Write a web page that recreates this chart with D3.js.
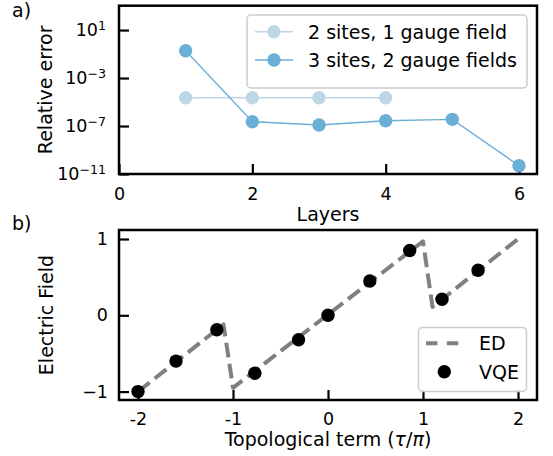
<!DOCTYPE html>
<html>
<head>
<meta charset="utf-8">
<script src="https://cdn.jsdelivr.net/npm/d3@7"></script>
<style>
  html, body { margin: 0; padding: 0; background: #ffffff; }
  svg { display: block; font-family: "DejaVu Sans", sans-serif; }
</style>
</head>
<body>
<svg id="chart" width="553" height="456"></svg>
<script>
// ---------------- data ----------------
const layers = [1, 2, 3, 4, 5, 6];
const err2sites = [2.3e-5, 2.3e-5, 2.3e-5, 2.3e-5];
const err3sites = [0.19, 2.3e-7, 1.2e-7, 2.75e-7, 3.6e-7, 4.9e-11];
const seriesNames = ["2 sites, 1 gauge field", "3 sites, 2 gauge fields"];

const topoED = [-2.0, -1.1, -1.0, 1.0, 1.1, 2.0];
const fieldED = [-1.0, -0.12, -0.95, 0.97, 0.11, 1.0];
const topoVQE = [-2.0, -1.6, -1.17, -0.77, -0.31, 0.0, 0.44, 0.86, 1.2, 1.58];
const fieldVQE = [-1.0, -0.6, -0.19, -0.76, -0.32, 0.0, 0.45, 0.85, 0.21, 0.59];

const topXTicks = [0, 2, 4, 6];
const topYTicks = [1e-11, 1e-7, 1e-3, 1e1];
const topYExp = ["\u221211", "\u22127", "\u22123", "1"];
const botXTicks = [-2, -1, 0, 1, 2];
const botXLabels = ["-2", "-1", "0", "1", "2"];
const botYTicks = [-1, 0, 1];
const botYLabels = ["\u22121", "0", "1"];

// ---------------- style ----------------
const cLight = "#bdd7e7", cDark = "#6baed6", cED = "#808080";
const tickFont = 17.5, labFont = 19;
const svg = d3.select("#chart");

function frame(g, x0, y0, x1, y1) {
  g.append("rect").attr("x", x0).attr("y", y0).attr("width", x1 - x0).attr("height", y1 - y0)
    .attr("fill", "none").attr("stroke", "#000").attr("stroke-width", 2.5);
}
function styleAxis(sel) {
  sel.select(".domain").remove();
  sel.selectAll(".tick line").attr("stroke", "#000").attr("stroke-width", 2.2);
  sel.selectAll(".tick text").attr("fill", "#000").style("font-size", tickFont + "px")
     .style("font-family", "DejaVu Sans");
}

// ================= panel a =================
const A = {x0: 119, x1: 537, y0: 5.7, y1: 174};
const xA = d3.scaleLinear().domain([0, 6.27]).range([A.x0, A.x1]);
const yA = d3.scaleLog().domain([1e-11, Math.pow(10, 3.03)]).range([A.y1, A.y0]);
const gA = svg.append("g");

gA.append("g").attr("transform", `translate(0,${A.y1})`)
  .call(d3.axisBottom(xA).tickValues(topXTicks).tickFormat(d3.format("d"))
        .tickSizeInner(-10).tickSizeOuter(0).tickPadding(14))
  .call(styleAxis);

const yAxA = gA.append("g").attr("transform", `translate(${A.x0},0)`)
  .call(d3.axisLeft(yA).tickValues(topYTicks).tickSizeInner(-10).tickSizeOuter(0).tickPadding(13))
  .call(styleAxis);
yAxA.selectAll(".tick text").each(function(d, i) {
  const t = d3.select(this);
  t.text(null);
  t.append("tspan").text("10");
  t.append("tspan").attr("dy", "-0.45em").style("font-size", "0.72em").text(topYExp[i]);
});

// series
const lineA = d3.line().x(d => xA(d[0])).y(d => yA(d[1]));
const s1 = err2sites.map((v, i) => [layers[i], v]);
const s2 = err3sites.map((v, i) => [layers[i], v]);
gA.append("path").datum(s1).attr("d", lineA).attr("fill", "none").attr("stroke", cLight).attr("stroke-width", 1.4);
gA.selectAll(".p1").data(s1).enter().append("circle")
  .attr("cx", d => xA(d[0])).attr("cy", d => yA(d[1])).attr("r", 6.7).attr("fill", cLight);
gA.append("path").datum(s2).attr("d", lineA).attr("fill", "none").attr("stroke", cDark).attr("stroke-width", 1.4);
gA.selectAll(".p2").data(s2).enter().append("circle")
  .attr("cx", d => xA(d[0])).attr("cy", d => yA(d[1])).attr("r", 6.7).attr("fill", cDark);

frame(gA, A.x0, A.y0, A.x1, A.y1);

// legend a
const legA = gA.append("g");
legA.append("rect").attr("x", 247).attr("y", 15).attr("width", 280).attr("height", 73)
  .attr("rx", 4).attr("fill", "#fff").attr("fill-opacity", 0.8).attr("stroke", "#cccccc").attr("stroke-width", 1.5);
[cLight, cDark].forEach((c, i) => {
  const yy = 31.7 + i * 28.3;
  legA.append("line").attr("x1", 255).attr("x2", 293).attr("y1", yy).attr("y2", yy)
    .attr("stroke", c).attr("stroke-width", 1.4);
  legA.append("circle").attr("cx", 274).attr("cy", yy).attr("r", 6.7).attr("fill", c);
  legA.append("text").attr("x", 308).attr("y", yy).attr("dy", "0.36em")
    .style("font-size", labFont + "px").text(seriesNames[i]);
});

gA.append("text").attr("x", (A.x0 + A.x1) / 2).attr("y", 220.5).attr("text-anchor", "middle")
  .style("font-size", labFont + "px").text("Layers");
gA.append("text").attr("transform", `translate(51.5,${(A.y0 + A.y1) / 2}) rotate(-90)`)
  .attr("text-anchor", "middle").style("font-size", labFont + "px").text("Relative error");
gA.append("text").attr("x", 12).attr("y", 17).style("font-size", labFont + "px").text("a)");

// ================= panel b =================
const B = {x0: 119, x1: 537, y0: 230, y1: 400};
const xB = d3.scaleLinear().domain([-2.2, 2.2]).range([B.x0, B.x1]);
const yB = d3.scaleLinear().domain([-1.11, 1.118]).range([B.y1, B.y0]);
const gB = svg.append("g");

gB.append("g").attr("transform", `translate(0,${B.y1})`)
  .call(d3.axisBottom(xB).tickValues(botXTicks).tickFormat((d, i) => botXLabels[i])
        .tickSizeInner(-10).tickSizeOuter(0).tickPadding(13))
  .call(styleAxis);
gB.append("g").attr("transform", `translate(${B.x0},0)`)
  .call(d3.axisLeft(yB).tickValues(botYTicks).tickFormat((d, i) => botYLabels[i])
        .tickSizeInner(-10).tickSizeOuter(0).tickPadding(11))
  .call(styleAxis);

const edData = topoED.map((v, i) => [v, fieldED[i]]);
const lineB = d3.line().x(d => xB(d[0])).y(d => yB(d[1]));
gB.append("path").datum(edData).attr("d", lineB).attr("fill", "none")
  .attr("stroke", cED).attr("stroke-width", 4).attr("stroke-dasharray", "14.8,6.4")
  .attr("stroke-linejoin", "round");
const vqeData = topoVQE.map((v, i) => [v, fieldVQE[i]]);
gB.selectAll(".vqe").data(vqeData).enter().append("circle")
  .attr("cx", d => xB(d[0])).attr("cy", d => yB(d[1])).attr("r", 6.7).attr("fill", "#000");

frame(gB, B.x0, B.y0, B.x1, B.y1);

// legend b
const legB = gB.append("g");
legB.append("rect").attr("x", 418.5).attr("y", 327.5).attr("width", 108).attr("height", 64)
  .attr("rx", 4).attr("fill", "#fff").attr("fill-opacity", 0.8).attr("stroke", "#cccccc").attr("stroke-width", 1.5);
legB.append("line").attr("x1", 426).attr("x2", 461).attr("y1", 343.3).attr("y2", 343.3)
  .attr("stroke", cED).attr("stroke-width", 4).attr("stroke-dasharray", "11.5,9.3");
legB.append("circle").attr("cx", 444.3).attr("cy", 371.7).attr("r", 6.7).attr("fill", "#000");
legB.append("text").attr("x", 479).attr("y", 343.3).attr("dy", "0.36em").style("font-size", labFont + "px").text("ED");
legB.append("text").attr("x", 479).attr("y", 371.7).attr("dy", "0.36em").style("font-size", labFont + "px").text("VQE");

const xl = gB.append("text").attr("x", (B.x0 + B.x1) / 2).attr("y", 446).attr("text-anchor", "middle")
  .style("font-size", labFont + "px");
xl.append("tspan").text("Topological term (");
xl.append("tspan").style("font-style", "italic").text("\u03c4");
xl.append("tspan").text("/");
xl.append("tspan").style("font-style", "italic").text("\u03c0");
xl.append("tspan").text(")");
gB.append("text").attr("transform", `translate(53,${(B.y0 + B.y1) / 2}) rotate(-90)`)
  .attr("text-anchor", "middle").style("font-size", labFont + "px").text("Electric Field");
gB.append("text").attr("x", 12).attr("y", 230).style("font-size", labFont + "px").text("b)");
</script>
</body>
</html>
